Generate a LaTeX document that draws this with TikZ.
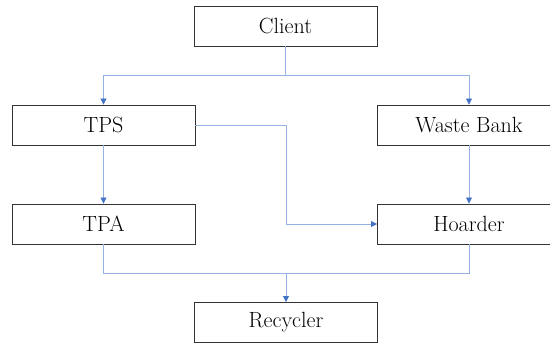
\documentclass[tikz,border=0pt]{standalone}
\usepackage{tikz}
\usetikzlibrary{arrows.meta}
\definecolor{azulLinha}{RGB}{68,114,196}
\definecolor{azulClaro}{RGB}{150,178,226}

\begin{document}
\begin{tikzpicture}[
    x=1pt, y=-1pt,
    stepbox/.style={draw=black!80, fill=white, line width=0.9pt, minimum width=183pt, minimum height=40pt, inner sep=0pt, align=center, font=\fontsize{22}{26}\selectfont},
    link/.style={line width=0.8pt, draw=azulClaro},
    arrow/.style={link, -{Triangle[length=6pt, width=6pt, color=azulLinha]}}
]
    \useasboundingbox (0,0) rectangle (550,344);

    \node[stepbox] (client) at (285.5, 26) {Client};
    \node[stepbox] (tps) at (103.5, 125) {TPS};
    \node[stepbox] (bank) at (469, 125) {Waste Bank};
    \node[stepbox] (tpa) at (103.5, 224) {TPA};
    \node[stepbox] (hoarder) at (469, 224) {Hoarder};
    \node[stepbox] (recycler) at (286, 322.5) {Recycler};

    \coordinate (split) at (285.5, 75);
    \coordinate (turn) at (286, 125);
    \coordinate (merge) at (286, 273);

    \draw[link] (client) -- (split);
    \draw[arrow] (split) -| (tps);
    \draw[arrow] (split) -| (bank);
    \draw[arrow] (bank) -- (hoarder);
    \draw[arrow] (tps) -- (tpa);
    \draw[arrow] (tps) -- (turn) |- (hoarder);
    \draw[link] (tpa) |- (merge);
    \draw[link] (hoarder) |- (merge);
    \draw[arrow] (merge) -- (recycler);
\end{tikzpicture}
\end{document}
